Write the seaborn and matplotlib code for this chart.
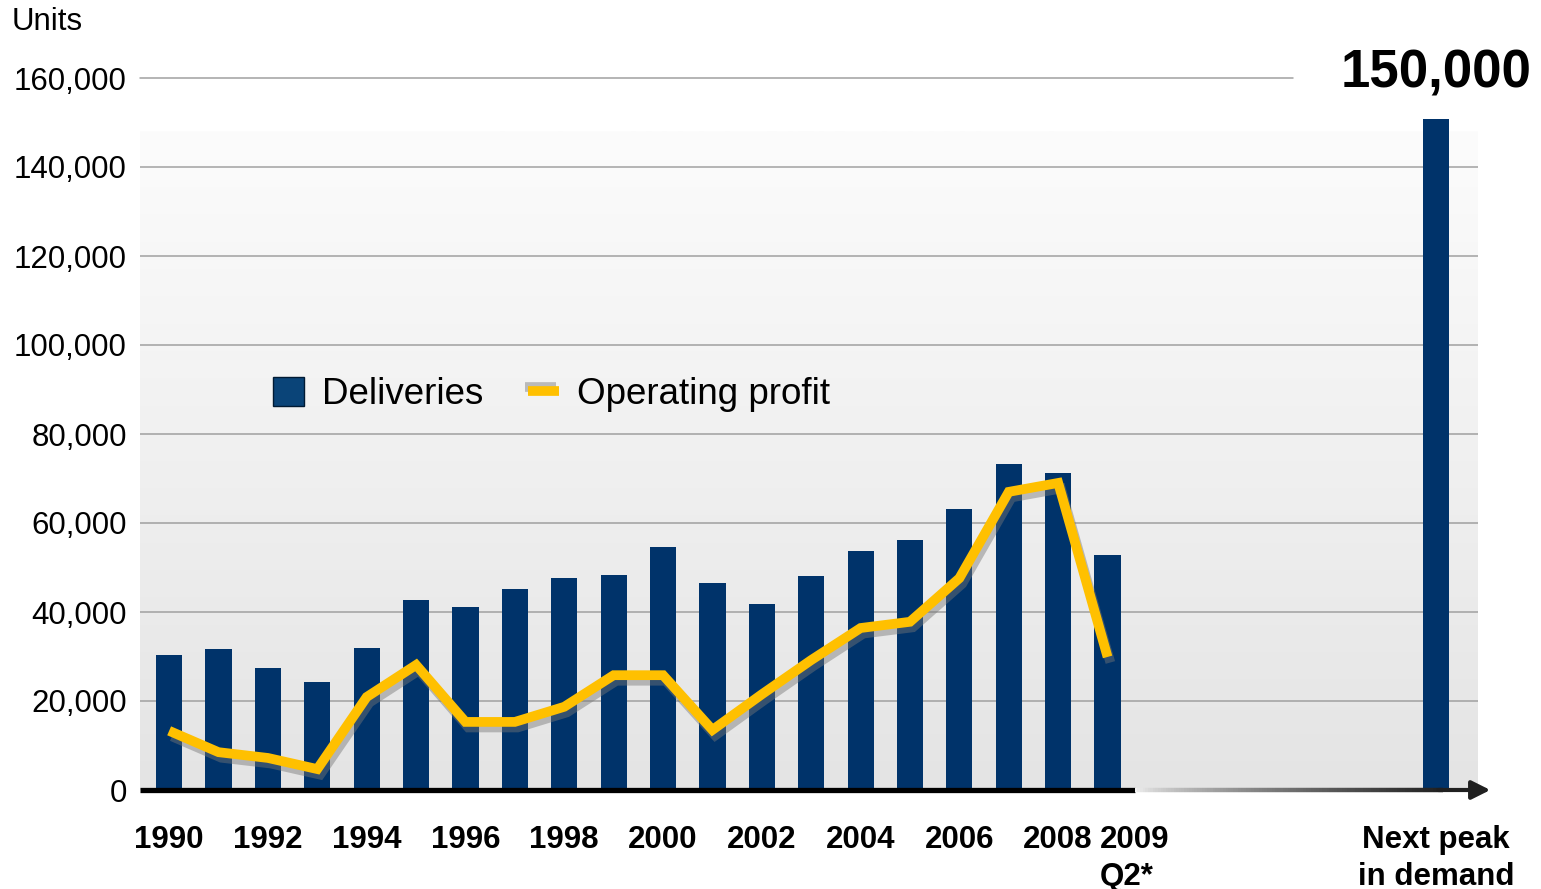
import matplotlib
matplotlib.use('Agg')
import matplotlib.pyplot as plt
import matplotlib.patheffects as pe
import matplotlib.transforms as mtransforms
from matplotlib.collections import LineCollection
from matplotlib.patches import Patch
from matplotlib.lines import Line2D
import seaborn as sns
import pandas as pd
import numpy as np

# Data
years = ['1990', '1991', '1992', '1993', '1994', '1995', '1996', '1997', '1998', '1999',
         '2000', '2001', '2002', '2003', '2004', '2005', '2006', '2007', '2008', '2009\nQ2*']
deliveries = [30300, 31700, 27400, 24300, 31900, 42700, 41100, 45200, 47600, 48300,
              54600, 46500, 41800, 48100, 53700, 56200, 63100, 73300, 71200, 52800]
operating_profit = [13300, 8500, 7200, 4700, 20900, 28100, 15300, 15300, 18700, 25800,
                    25800, 13500, 21500, 29200, 36400, 37800, 47600, 67000, 69000, 29900]
peak_label = 'Next peak\nin demand'
peak_value = 150800
peak_text = '150,000'

yticks = [0, 20000, 40000, 60000, 80000, 100000, 120000, 140000, 160000]

bar_color = '#00336a'
line_color = '#ffc000'

sns.set_theme(style='white')
plt.rcParams['font.family'] = ['Liberation Sans', 'DejaVu Sans']
plt.rcParams['text.color'] = 'black'

# positions: one slot per year, the peak bar sits further right
pos = list(np.arange(len(years), dtype=float))
peak_x = 25.65
df = pd.DataFrame({'pos': pos + [peak_x], 'value': deliveries + [peak_value]})

fig = plt.figure(figsize=(15.41, 8.89), dpi=100)
ax = fig.add_axes([140 / 1541, 99 / 889, 1338 / 1541, 712 / 889])

xlim = (-0.59, 26.5)

# gradient background
grad = np.linspace(0, 1, 256).reshape(-1, 1)
bg = plt.matplotlib.colors.LinearSegmentedColormap.from_list('bg', ['#e4e4e4', '#fcfcfc'])
ax.imshow(grad, cmap=bg, origin='lower', aspect='auto',
          extent=[xlim[0], xlim[1], 0, 148000], zorder=0)

# gridlines
for y in yticks[1:-1]:
    ax.axhline(y, color='#a0a0a0', lw=1.1, zorder=1)
ax.axhline(160000, xmax=0.862, color='#a0a0a0', lw=1.1, zorder=1, clip_on=False)

sns.barplot(data=df, x='pos', y='value', native_scale=True, width=0.53,
            color=bar_color, saturation=1, linewidth=0, ax=ax, zorder=2)

sns.lineplot(x=pos, y=operating_profit, ax=ax, color=line_color, lw=7,
             solid_capstyle='butt', solid_joinstyle='miter', zorder=3,
             path_effects=[pe.SimpleLineShadow(offset=(2, -4), shadow_color='#777777', alpha=0.45),
                           pe.Normal()])

ax.set_xlim(*xlim)
ax.set_ylim(0, 160000)

# x axis: solid black, then fading arrow
ax.plot([xlim[0], 19.55], [0, 0], color='black', lw=3.8, solid_capstyle='butt',
        clip_on=False, zorder=4)
gx = np.linspace(19.55, 25.8, 120)
segs = [[(gx[i], 0), (gx[i + 1], 0)] for i in range(len(gx) - 1)]
cols = plt.matplotlib.colors.LinearSegmentedColormap.from_list('ax', ['#f0f0f0', '#202020'])(
    np.linspace(0, 1, len(segs)) ** 0.7)
ax.add_collection(LineCollection(segs, colors=cols, linewidths=3.2, clip_on=False, zorder=4))
ax.annotate('', xy=(26.75, 0), xytext=(25.7, 0), annotation_clip=False,
            arrowprops=dict(arrowstyle='-|>', color='#202020', lw=3, mutation_scale=28,
                            shrinkA=0, shrinkB=0), zorder=5)

# peak label
ax.text(peak_x, 161000, peak_text, ha='center', va='center', fontsize=38,
        fontweight='bold', color='black', clip_on=False)

# ticks
ax.set_yticks(yticks)
ax.set_yticklabels([f'{v:,}' for v in yticks])
tick_pos = pos[0:19:2] + [pos[19], peak_x]
tick_lab = years[0:19:2] + [years[19], peak_label]
ax.set_xticks(tick_pos)
ax.set_xticklabels(tick_lab, fontweight='bold', linespacing=1.3)
ax.tick_params(axis='y', labelsize=22.5, length=0, pad=9.5, labelcolor='black')
ax.tick_params(axis='x', labelsize=22.5, length=0, pad=25, labelcolor='black')
labels = ax.get_xticklabels()
labels[-2].set_ha('left')
labels[-2].set_transform(labels[-2].get_transform() +
                         mtransforms.ScaledTranslation(-8 / 100, 0, fig.dpi_scale_trans))
labels[-1].set_multialignment('center')
ax.set_xlabel('')
ax.set_ylabel('')
for s in ax.spines.values():
    s.set_visible(False)

fig.text(12 / 1541, 1 - 22 / 889, 'Units', fontsize=22.5, va='center', ha='left')

# legend
handles = [Patch(facecolor='#0a4478', edgecolor='#001a33', lw=1),
           Line2D([0], [0], color=line_color, lw=7, solid_capstyle='butt',
                  path_effects=[pe.SimpleLineShadow(offset=(-2, 3), shadow_color='#777777', alpha=0.45),
                                pe.Normal()])]
ax.legend(handles, ['Deliveries', 'Operating profit'], ncol=2, frameon=False,
          loc='center left', bbox_to_anchor=(0.0994, 0.555), fontsize=26.5,
          handlelength=0.84, handleheight=0.84, handletextpad=0.5, columnspacing=1.2,
          borderpad=0, borderaxespad=0)

fig.savefig('out.png', dpi=100, facecolor='white')
